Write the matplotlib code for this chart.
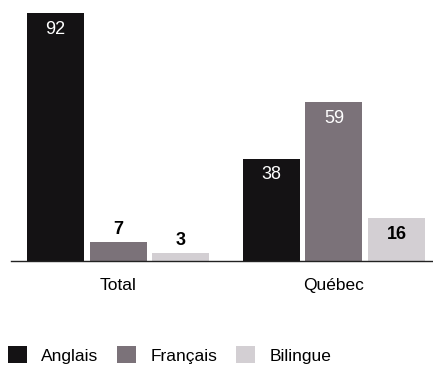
import matplotlib
matplotlib.use("Agg")
import matplotlib.pyplot as plt
from matplotlib.patches import Patch
import numpy as np

categories = ["Total", "Québec"]
series = ["Anglais", "Français", "Bilingue"]
anglais = [92, 38]
francais = [7, 59]
bilingue = [3, 16]

colors = ["#141214", "#7b7279", "#d3cfd3"]
label_colors = [["white", "white"], ["black", "white"], ["black", "black"]]
label_inside = [[True, True], [False, True], [False, True]]

plt.rcParams['font.family'] = ['Liberation Sans Narrow', 'Liberation Sans', 'DejaVu Sans']

fig = plt.figure(figsize=(4.33, 3.66), dpi=100)
ax = fig.add_axes([11/433, 1 - 261/366, 1 - 11/433, 261/366])

group_gap = 3.44
width = 0.91
vals = [anglais, francais, bilingue]
for si, (name, v) in enumerate(zip(series, vals)):
    xs = np.arange(len(categories)) * group_gap + si
    ax.bar(xs, v, width=width, color=colors[si], edgecolor="none", label=name)
    for ci, (x, val) in enumerate(zip(xs, v)):
        if label_inside[si][ci]:
            y = val - 6
            va = "center"
        else:
            y = val + 1.6
            va = "bottom"
        weight = "bold" if label_colors[si][ci] == "black" else "normal"
        ax.text(x, y, str(val), ha="center", va=va, color=label_colors[si][ci],
                fontsize=13, fontweight=weight)

ax.set_xlim(-0.71, 6.02)
ax.set_ylim(0, 97)
ax.set_xticks(np.arange(len(categories)) * group_gap + 1)
ax.set_xticklabels(categories, fontsize=12.5)
ax.tick_params(axis="x", length=0, pad=12)
ax.set_yticks([])
for s in ["top", "right", "left"]:
    ax.spines[s].set_visible(False)
ax.spines["bottom"].set_linewidth(1.0)
ax.spines["bottom"].set_color("#222222")

handles = [Patch(facecolor=c, edgecolor="none") for c in colors]
fig.legend(handles, series, loc="center left", bbox_to_anchor=(8/433, 1 - 355/366),
           ncol=3, frameon=False, fontsize=12.5, handlelength=1.1, handleheight=1.1,
           handletextpad=0.8, columnspacing=1.1, borderaxespad=0, borderpad=0)

fig.savefig("out.png", dpi=100)
